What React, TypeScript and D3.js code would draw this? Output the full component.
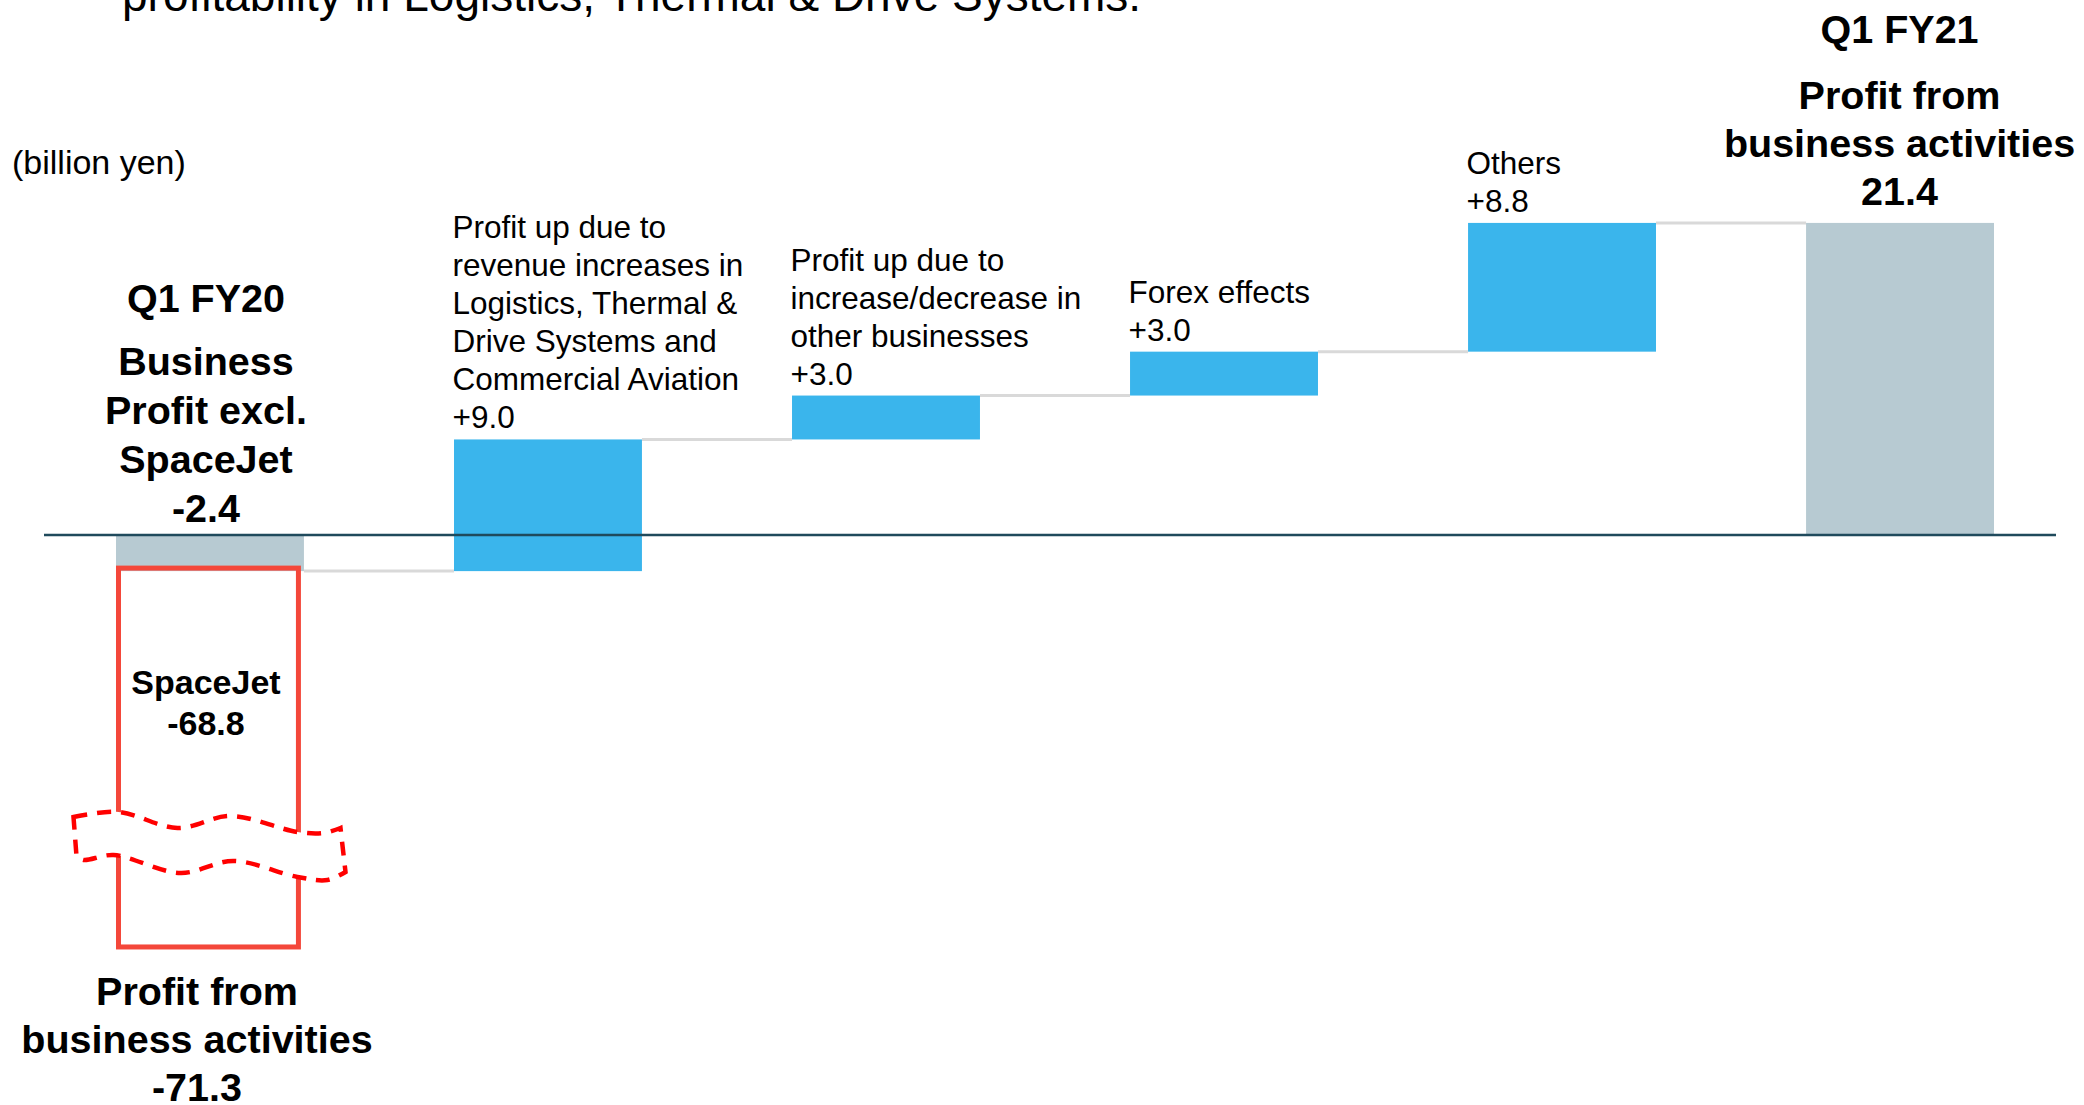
import React from "react";
import * as d3 from "d3";

// ---------- data ----------
const categories = ["Q1 FY20", "Logistics/Thermal/Aviation", "Other businesses", "Forex effects", "Others", "Q1 FY21"];
const startValue = -2.4;
const deltas = [9.0, 3.0, 3.0, 8.8];
const endValue = 21.4;
const spaceJetValue = -68.8;
const totalFY20Value = -71.3;

const deltaLabels = [
  ["Profit up due to", "revenue increases in", "Logistics, Thermal &", "Drive Systems and", "Commercial Aviation", "+9.0"],
  ["Profit up due to", "increase/decrease in", "other businesses", "+3.0"],
  ["Forex effects", "+3.0"],
  ["Others", "+8.8"],
];
const startPeriod = "Q1 FY20";
const startLabel = ["Business", "Profit excl.", "SpaceJet", "-2.4"];
const endPeriod = "Q1 FY21";
const endLabel = ["Profit from", "business activities", "21.4"];
const spaceJetLabel = ["SpaceJet", "-68.8"];
const totalLabel = ["Profit from", "business activities", "-71.3"];
const unitLabel = "(billion yen)";
const headline = "profitability in Logistics, Thermal & Drive Systems.";

// ---------- layout ----------
const W = 2084;
const H = 1105;
const FONT = "'Liberation Sans', Arial, Helvetica, sans-serif";
const BLUE = "#3ab5ec";
const GRAY = "#b7cad2";
const RED_BOX = "#f4473a";
const RED_DASH = "#ff0000";
const AXIS = "#1f4a5c";
const CONNECTOR = "#d9d9d9";

const Y0 = 536;
const PPU = 14.63;
const BREAK_HIGH = -19;
const BREAK_LOW = -65.8;
const BREAK_GAP = 54;

export default function App() {
  const x = d3
    .scaleBand<string>()
    .domain(categories)
    .range([44, 2066])
    .paddingInner(0.444)
    .paddingOuter(0.213);
  const bw = x.bandwidth();

  const yBreakTop = Y0 - BREAK_HIGH * PPU;
  const y = d3
    .scaleLinear()
    .domain([totalFY20Value, BREAK_LOW, BREAK_HIGH, endValue])
    .range([
      yBreakTop + BREAK_GAP + (BREAK_LOW - totalFY20Value) * PPU,
      yBreakTop + BREAK_GAP,
      yBreakTop,
      Y0 - endValue * PPU,
    ]);

  // running totals
  const levels: number[] = [startValue];
  deltas.forEach((d) => levels.push(levels[levels.length - 1] + d));

  const deltaBars = deltas.map((d, i) => ({
    cat: categories[i + 1],
    from: levels[i],
    to: levels[i + 1],
    labels: deltaLabels[i],
  }));

  // connectors: from each bar to the next at the running level
  const connectors = levels.map((lv, i) => ({
    x1: (x(categories[i]) as number) + bw,
    x2: x(categories[i + 1]) as number,
    y: y(lv),
  }));

  const x0 = x(categories[0]) as number;
  const xEnd = x(categories[categories.length - 1]) as number;
  const startCx = x0 + bw / 2 - 4;
  const endCx = xEnd + bw / 2 - 0.5;

  // red SpaceJet box (broken bar from startValue down by spaceJetValue)
  const boxLeft = x0 + 2.5;
  const boxRight = x0 + bw - 5.5;
  const boxTop = y(startValue) - 3;
  const boxBottom = y(Math.max(totalFY20Value, startValue + spaceJetValue));

  // wavy break shape relative to box left and break level
  const wy = y(BREAK_HIGH);
  const upperPts: [number, number][] = [
    [-45, 3], [0, -2], [59, 14], [112, 2], [179, 18], [205, 19], [222, 14],
  ];
  const lowerPts: [number, number][] = [
    [227, 58], [209, 66], [179, 63], [115, 47], [62, 59], [-5, 41], [-35, 46], [-42, 42],
  ];
  const line = d3
    .line<[number, number]>()
    .x((p) => boxLeft + p[0])
    .y((p) => wy + p[1])
    .curve(d3.curveCatmullRom.alpha(0.5));
  const upperStr = line(upperPts) as string;
  const lowerStr = line(lowerPts) as string;
  const wavePath = upperStr + "L" + lowerStr.slice(1) + "Z";

  const normalSize = 31.5;
  const boldSize = 39.5;

  return (
    <svg
      width={W}
      height={H}
      viewBox={`0 0 ${W} ${H}`}
      style={{ position: "absolute", left: 0, top: 0, background: "#fff", display: "block" }}
      fontFamily={FONT}
    >
      <rect x={0} y={0} width={W} height={H} fill="#fff" />

      {/* headline (cut at top) */}
      <text x={122} y={11} fontSize={46} fill="#000">
        {headline}
      </text>

      {/* unit */}
      <text x={12} y={174} fontSize={34} fill="#000">
        {unitLabel}
      </text>

      {/* connectors */}
      {connectors.map((c, i) => (
        <line key={"c" + i} x1={c.x1} x2={c.x2} y1={c.y} y2={c.y} stroke={CONNECTOR} strokeWidth={3} />
      ))}

      {/* start bar */}
      <rect x={x0} y={y(0)} width={bw} height={y(startValue) - y(0)} fill={GRAY} />

      {/* delta bars */}
      {deltaBars.map((b) => {
        const bx = x(b.cat) as number;
        const top = Math.min(y(b.from), y(b.to));
        const bottom = Math.max(y(b.from), y(b.to));
        return <rect key={b.cat} x={bx} y={top} width={bw} height={bottom - top} fill={BLUE} />;
      })}

      {/* end bar */}
      <rect x={xEnd} y={y(endValue)} width={bw} height={y(0) - y(endValue)} fill={GRAY} />

      {/* zero line */}
      <line x1={44} x2={2056} y1={y(0) - 1} y2={y(0) - 1} stroke={AXIS} strokeWidth={2.5} />

      {/* delta labels */}
      {deltaBars.map((b) => {
        const bx = (x(b.cat) as number) - 1.5;
        const top = Math.min(y(b.from), y(b.to));
        const n = b.labels.length;
        return (
          <text key={"l" + b.cat} fontSize={normalSize} fill="#000">
            {b.labels.map((t, j) => (
              <tspan key={j} x={bx} y={top - 11 - (n - 1 - j) * 38}>
                {t}
              </tspan>
            ))}
          </text>
        );
      })}

      {/* start labels */}
      <text x={startCx} y={y(0) - 14 - 3 * 49 - 63} fontSize={boldSize} fontWeight="bold" textAnchor="middle">
        {startPeriod}
      </text>
      <text fontSize={boldSize} fontWeight="bold" textAnchor="middle">
        {startLabel.map((t, j) => (
          <tspan key={j} x={startCx} y={y(0) - 14 - (startLabel.length - 1 - j) * 49}>
            {t}
          </tspan>
        ))}
      </text>

      {/* end labels */}
      <text x={endCx} y={y(endValue) - 18 - 2 * 48 - 66} fontSize={boldSize} fontWeight="bold" textAnchor="middle">
        {endPeriod}
      </text>
      <text fontSize={boldSize} fontWeight="bold" textAnchor="middle">
        {endLabel.map((t, j) => (
          <tspan key={j} x={endCx} y={y(endValue) - 18 - (endLabel.length - 1 - j) * 48}>
            {t}
          </tspan>
        ))}
      </text>

      {/* SpaceJet broken box */}
      <rect
        x={boxLeft}
        y={boxTop}
        width={boxRight - boxLeft}
        height={boxBottom - boxTop}
        fill="none"
        stroke={RED_BOX}
        strokeWidth={5}
      />
      <path d={wavePath} fill="#fff" stroke={RED_DASH} strokeWidth={4.5} strokeDasharray="14 10" />

      <text fontSize={34} fontWeight="bold" textAnchor="middle">
        {spaceJetLabel.map((t, j) => (
          <tspan key={j} x={startCx} y={boxTop + 126 + j * 41}>
            {t}
          </tspan>
        ))}
      </text>

      {/* total FY20 labels */}
      <text fontSize={boldSize} fontWeight="bold" textAnchor="middle">
        {totalLabel.map((t, j) => (
          <tspan key={j} x={197} y={boxBottom + 58 + j * 48}>
            {t}
          </tspan>
        ))}
      </text>
    </svg>
  );
}
